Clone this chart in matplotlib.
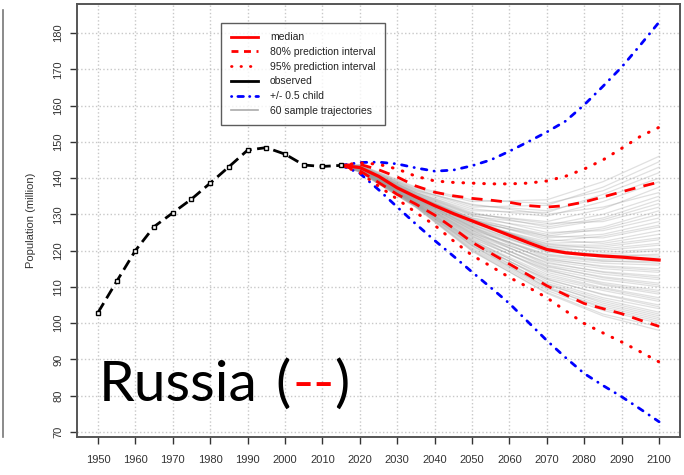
import numpy as np
import matplotlib.pyplot as plt
from matplotlib.lines import Line2D

# observed population (million)
obs_years = np.arange(1950, 2020, 5)
observed = [102.9, 111.5, 120.0, 126.6, 130.4, 134.2, 138.6, 143.1, 147.7, 148.4,
            146.6, 143.6, 143.2, 143.5]

# projections
proj_years = np.arange(2015, 2105, 5)
median = [143.5, 142.9, 140.5, 137.3, 134.8, 132.4, 130.2, 128.2, 126.2, 124.2,
          122.2, 120.3, 119.4, 118.9, 118.5, 118.2, 117.8, 117.4]
pi80_upper = [143.5, 143.8, 142.3, 140.3, 137.8, 136.1, 135.1, 134.4, 133.9, 133.3,
              132.4, 132.0, 132.4, 133.4, 134.8, 136.2, 137.6, 138.9]
pi80_lower = [143.5, 142.0, 138.8, 135.5, 132.8, 129.8, 126.2, 122.3, 119.3, 116.3,
              113.3, 110.3, 107.8, 105.4, 104.0, 102.6, 100.8, 99.1]
pi95_upper = [143.5, 144.2, 143.8, 142.5, 140.5, 139.2, 138.8, 138.6, 138.4, 138.4,
              138.6, 139.2, 140.5, 142.5, 145.0, 148.2, 151.5, 154.0]
pi95_lower = [143.5, 141.5, 137.8, 134.2, 130.5, 127.0, 122.7, 118.7, 115.7, 112.6,
              109.9, 107.0, 103.4, 99.9, 97.3, 94.8, 92.1, 89.3]
child_upper = [143.5, 144.3, 144.4, 143.9, 142.8, 141.9, 142.2, 143.4, 145.0, 147.4,
               150.0, 152.7, 155.7, 160.2, 165.3, 170.6, 176.7, 183.0]
child_lower = [143.5, 141.3, 136.8, 132.0, 127.3, 122.8, 118.5, 114.1, 109.8, 105.4,
               100.3, 95.2, 90.5, 86.1, 82.8, 79.7, 76.3, 72.8]

# sample trajectories, values at these years (start from 2015 observed)
traj_years = [2015, 2020, 2035, 2050, 2070, 2085, 2100]
trajectories = [
    [143.6, 137.2, 133.5, 134.0, 139.0, 146.0],
    [143.4, 136.8, 132.0, 132.5, 137.5, 144.5],
    [143.7, 137.5, 134.0, 133.0, 136.5, 143.0],
    [143.2, 136.0, 131.0, 130.5, 135.5, 141.5],
    [143.5, 136.9, 132.5, 131.0, 134.5, 140.0],
    [143.3, 136.4, 131.5, 129.5, 133.5, 139.0],
    [143.1, 135.8, 130.0, 128.0, 131.5, 137.5],
    [143.4, 136.5, 132.8, 130.0, 132.0, 136.0],
    [143.0, 135.5, 129.5, 127.0, 130.0, 135.0],
    [143.2, 136.1, 130.5, 126.5, 129.0, 134.0],
    [142.9, 135.2, 129.0, 126.0, 128.5, 133.0],
    [143.3, 135.9, 130.2, 127.5, 128.0, 132.0],
    [143.0, 135.0, 128.5, 124.5, 126.5, 131.0],
    [142.8, 134.9, 128.0, 124.0, 126.0, 130.0],
    [143.1, 135.6, 129.8, 125.0, 125.5, 129.0],
    [142.9, 135.3, 128.3, 123.5, 124.5, 128.0],
    [143.0, 134.6, 127.5, 122.5, 124.0, 127.0],
    [143.2, 135.4, 129.0, 124.0, 123.5, 126.5],
    [142.8, 134.7, 127.8, 122.0, 122.5, 125.5],
    [142.9, 135.1, 128.6, 123.0, 122.0, 124.5],
    [142.7, 134.4, 127.0, 121.5, 121.5, 123.5],
    [143.0, 134.8, 128.0, 121.0, 121.0, 123.0],
    [142.8, 134.5, 127.4, 121.8, 120.5, 122.0],
    [142.6, 134.2, 126.8, 120.5, 120.0, 121.5],
    [142.9, 134.9, 128.2, 121.2, 119.5, 120.5],
    [142.7, 134.3, 126.5, 120.0, 119.0, 120.0],
    [142.8, 134.6, 127.2, 119.5, 118.5, 119.0],
    [142.6, 134.0, 126.2, 119.8, 118.8, 118.5],
    [143.0, 135.0, 128.8, 120.8, 118.0, 118.0],
    [142.5, 133.8, 125.8, 119.0, 117.5, 117.5],
    [142.7, 134.1, 126.0, 118.5, 117.0, 117.0],
    [142.6, 133.9, 125.5, 118.8, 117.2, 116.5],
    [142.8, 134.4, 126.6, 118.0, 116.5, 116.0],
    [142.5, 133.6, 125.2, 117.5, 115.8, 115.0],
    [142.4, 133.5, 124.8, 117.8, 115.5, 114.5],
    [142.7, 134.2, 126.4, 117.2, 115.0, 114.0],
    [142.5, 133.7, 125.0, 116.5, 114.2, 113.0],
    [142.3, 133.3, 124.5, 116.8, 114.0, 112.5],
    [142.6, 134.0, 125.6, 116.0, 113.5, 112.0],
    [142.4, 133.4, 124.2, 115.5, 112.8, 111.0],
    [142.2, 133.1, 123.8, 115.8, 112.5, 110.5],
    [142.5, 133.6, 124.6, 115.0, 112.0, 110.0],
    [142.3, 133.2, 123.5, 114.5, 111.2, 109.0],
    [142.1, 132.9, 123.2, 114.8, 110.8, 108.5],
    [142.4, 133.3, 124.0, 114.0, 110.5, 108.0],
    [142.2, 133.0, 122.8, 113.5, 109.8, 107.0],
    [142.0, 132.7, 122.5, 113.0, 109.5, 106.5],
    [142.3, 133.1, 123.0, 112.5, 109.0, 106.0],
    [142.1, 132.8, 122.2, 112.0, 108.0, 105.0],
    [141.9, 132.5, 121.8, 112.2, 107.8, 104.5],
    [142.2, 132.9, 122.6, 111.5, 107.0, 104.0],
    [142.0, 132.6, 121.5, 111.0, 106.5, 103.0],
    [141.8, 132.3, 121.2, 110.5, 106.0, 102.5],
    [142.1, 132.7, 122.0, 110.8, 105.5, 102.0],
    [141.9, 132.4, 120.8, 110.0, 105.0, 101.5],
    [141.7, 132.1, 120.5, 109.5, 104.5, 101.0],
    [142.0, 132.5, 121.4, 109.8, 104.0, 100.5],
    [141.8, 132.2, 120.2, 109.0, 103.5, 100.0],
    [141.6, 131.9, 119.8, 108.5, 102.5, 99.0],
    [141.7, 132.0, 120.0, 108.2, 102.0, 98.0],
]

x_ticks = np.arange(1950, 2101, 10)
y_ticks = np.arange(70, 181, 10)

plt.rcParams['font.family'] = ['Liberation Sans', 'DejaVu Sans']

fig = plt.figure(figsize=(6.84, 4.75), dpi=100)
ax = fig.add_axes([0.1126, 0.08, 0.8816, 0.9116])

for tr in trajectories:
    ax.plot(traj_years, [observed[-1]] + tr, color='#999999', lw=0.9, alpha=0.3, zorder=2)

ax.plot(obs_years, observed, color='black', lw=2, dashes=(4, 2), marker='s', ms=3.5,
        mfc='white', mec='black', mew=1, zorder=5)

dotdash = (2.0, 2.6, 0.1, 2.6)
dots = (0.2, 3.2)
ax.plot(proj_years, child_upper, color='blue', lw=2, dashes=dotdash, dash_capstyle='round', zorder=3)
ax.plot(proj_years, child_lower, color='blue', lw=2, dashes=dotdash, dash_capstyle='round', zorder=3)
ax.plot(proj_years, pi95_upper, color='red', lw=2.2, dashes=dots, dash_capstyle='round', zorder=4)
ax.plot(proj_years, pi95_lower, color='red', lw=2.2, dashes=dots, dash_capstyle='round', zorder=4)
ax.plot(proj_years, pi80_upper, color='red', lw=2, dashes=(4, 3), zorder=4)
ax.plot(proj_years, pi80_lower, color='red', lw=2, dashes=(4, 3), zorder=4)
ax.plot(proj_years, median, color='red', lw=2.3, zorder=4)

ax.set_xlim(1944.4, 2105.6)
ax.set_ylim(68.6, 188.0)
ax.set_xticks(x_ticks)
ax.set_yticks(y_ticks)
ax.grid(True, color='#c8c8c8', ls=':', lw=1)
ax.set_axisbelow(True)
ax.tick_params(labelsize=8, colors='#333333', length=5, width=1)
ax.tick_params(axis='x', pad=8)
ax.tick_params(axis='y', pad=5)
for lab in ax.get_yticklabels():
    lab.set_rotation(90)
    lab.set_va('center')
for sp in ax.spines.values():
    sp.set_color('#555555')
    sp.set_linewidth(1.4)
ax.set_ylabel('Population (million)', fontsize=8, color='#333333', labelpad=12)

handles = [
    Line2D([], [], color='red', lw=2),
    Line2D([], [], color='red', lw=2, dashes=(2.5, 2)),
    Line2D([], [], color='red', lw=2, dashes=dots, dash_capstyle='round'),
    Line2D([], [], color='black', lw=2),
    Line2D([], [], color='blue', lw=2, dashes=(0.1, 2.2, 2.0, 2.2), dash_capstyle='round'),
    Line2D([], [], color='#aaaaaa', lw=1.2),
]
labels = ['median', '80% prediction interval', '95% prediction interval',
          'observed', '+/- 0.5 child', '60 sample trajectories']
leg = ax.legend(handles, labels, loc='upper left', bbox_to_anchor=(0.239, 0.956),
                fontsize=7.5, frameon=True, fancybox=False, handlelength=2.6,
                labelspacing=0.45, borderpad=0.9, handletextpad=1.2, borderaxespad=0)
leg.get_frame().set_edgecolor('#333333')
leg.get_frame().set_linewidth(1)
for t in leg.get_texts():
    t.set_color('#222222')

# big country label, pieces at their pixel positions
base_y = 1 - 401 / 475
label_parts = [('Russia', 'black', 99), ('(', 'black', 275), ('--', 'red', 293), (')', 'black', 334)]
for txt, col, px in label_parts:
    fig.text(px / 684, base_y, txt, fontsize=41, family='Lato', va='baseline', color=col)

# edge of neighbouring panel
fig.add_artist(Line2D([3 / 684, 3 / 684], [1 - 10 / 475, 1 - 437 / 475],
                      color='#777777', lw=1.2))

fig.savefig('out.png', dpi=100)
